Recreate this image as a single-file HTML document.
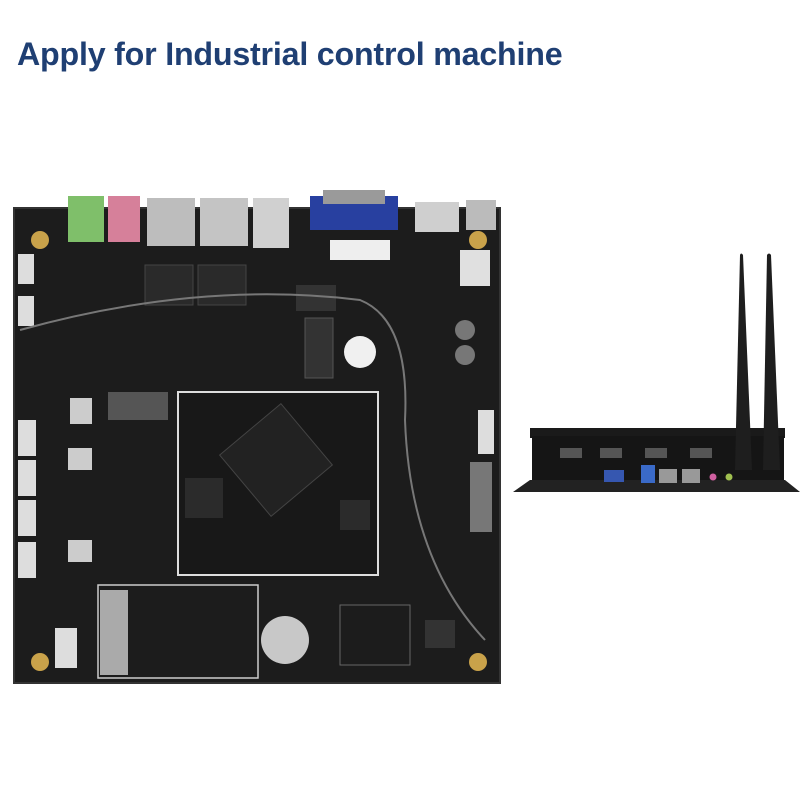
<!DOCTYPE html>
<html><head><meta charset="utf-8"><style>
body{margin:0;width:800px;height:800px;background:#fff;position:relative;overflow:hidden;font-family:"Liberation Sans",sans-serif}
.t{position:absolute;left:17px;top:36px;font-size:32.2px;font-weight:bold;color:#1f3f73;letter-spacing:-0.2px}
.a{position:absolute}
</style></head><body>
<div class="t">Apply for Industrial control machine</div>
<svg class="a" style="left:0;top:0" width="800" height="800">
<rect x="14" y="208" width="486" height="475" fill="#1c1c1c"/>
<rect x="14" y="208" width="486" height="475" fill="none" stroke="#333" stroke-width="2"/>
<rect x="68" y="196" width="36" height="46" fill="#7fbf6a"/>
<rect x="108" y="196" width="32" height="46" fill="#d6809a"/>
<rect x="147" y="198" width="48" height="48" fill="#bdbdbd"/>
<rect x="200" y="198" width="48" height="48" fill="#c4c4c4"/>
<rect x="253" y="198" width="36" height="50" fill="#d0d0d0"/>
<rect x="310" y="196" width="88" height="34" fill="#2840a0"/>
<rect x="323" y="190" width="62" height="14" fill="#9a9a9a"/>
<rect x="415" y="202" width="44" height="30" fill="#cfcfcf"/>
<rect x="466" y="200" width="30" height="30" fill="#bbb"/>
<rect x="460" y="250" width="30" height="36" fill="#e0e0e0"/>
<rect x="330" y="240" width="60" height="20" fill="#eee"/>
<rect x="145" y="265" width="48" height="40" fill="#2a2a2a" stroke="#444"/>
<rect x="198" y="265" width="48" height="40" fill="#2a2a2a" stroke="#444"/>
<rect x="296" y="285" width="40" height="26" fill="#333"/>
<rect x="305" y="318" width="28" height="60" fill="#333" stroke="#555"/>
<rect x="108" y="392" width="60" height="28" fill="#555"/>
<rect x="178" y="392" width="200" height="183" fill="#181818" stroke="#ddd" stroke-width="2"/>
<rect x="236" y="420" width="80" height="80" fill="#222" stroke="#444" transform="rotate(-40 276 460)"/>
<rect x="185" y="478" width="38" height="40" fill="#2b2b2b"/>
<rect x="340" y="500" width="30" height="30" fill="#2b2b2b"/>
<rect x="98" y="585" width="160" height="93" fill="none" stroke="#ccc" stroke-width="1.5"/>
<rect x="100" y="590" width="28" height="85" fill="#aaa"/>
<circle cx="285" cy="640" r="24" fill="#c8c8c8"/>
<rect x="340" y="605" width="70" height="60" fill="none" stroke="#666"/>
<rect x="425" y="620" width="30" height="28" fill="#333"/>
<rect x="18" y="254" width="16" height="30" fill="#ddd"/>
<rect x="18" y="296" width="16" height="30" fill="#ddd"/>
<rect x="18" y="420" width="18" height="36" fill="#ddd"/>
<rect x="18" y="460" width="18" height="36" fill="#ddd"/>
<rect x="18" y="500" width="18" height="36" fill="#ddd"/>
<rect x="18" y="542" width="18" height="36" fill="#ddd"/>
<rect x="55" y="628" width="22" height="40" fill="#ddd"/>
<rect x="478" y="410" width="16" height="44" fill="#ddd"/>
<rect x="470" y="462" width="22" height="70" fill="#777"/>
<rect x="68" y="448" width="24" height="22" fill="#ccc"/>
<rect x="68" y="540" width="24" height="22" fill="#ccc"/>
<rect x="70" y="398" width="22" height="26" fill="#ccc"/>
<circle cx="360" cy="352" r="16" fill="#f0f0f0"/>
<circle cx="465" cy="330" r="10" fill="#777"/>
<circle cx="465" cy="355" r="10" fill="#777"/>
<circle cx="40" cy="240" r="9" fill="#c9a24a"/>
<circle cx="478" cy="240" r="9" fill="#c9a24a"/>
<circle cx="40" cy="662" r="9" fill="#c9a24a"/>
<circle cx="478" cy="662" r="9" fill="#c9a24a"/>
<path d="M20 330 Q200 280 360 300 Q410 320 405 420 Q410 560 485 640" fill="none" stroke="#777" stroke-width="2"/>
<rect x="530" y="428" width="255" height="10" fill="#1a1a1a"/>
<rect x="532" y="436" width="252" height="50" fill="#151515"/>
<polygon points="513,492 530,480 785,480 800,492" fill="#222"/>
<rect x="560" y="448" width="22" height="10" fill="#555"/>
<rect x="600" y="448" width="22" height="10" fill="#555"/>
<rect x="645" y="448" width="22" height="10" fill="#555"/>
<rect x="690" y="448" width="22" height="10" fill="#555"/>
<rect x="604" y="470" width="20" height="12" fill="#3657b0"/>
<rect x="641" y="465" width="14" height="18" fill="#3a6ac8"/>
<rect x="659" y="469" width="18" height="14" fill="#999"/>
<rect x="682" y="469" width="18" height="14" fill="#999"/>
<circle cx="713" cy="477" r="3.5" fill="#d060a0"/>
<circle cx="729" cy="477" r="3.5" fill="#a0c050"/>
<path d="M735 470 L740 255 Q741 252 743 255 L752 470 Z" fill="#1e1e1e"/>
<path d="M763 470 L767 255 Q769 252 771 255 L780 470 Z" fill="#1e1e1e"/>
</svg>
</body></html>
